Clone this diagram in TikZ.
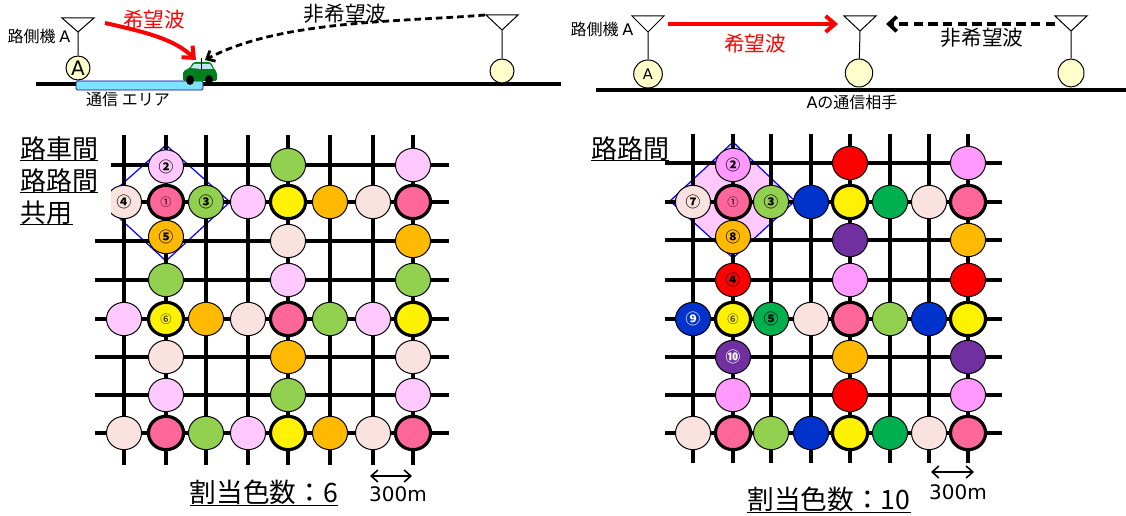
\documentclass[tikz,border=0pt]{standalone}
\usepackage{fontspec}
\setmainfont{DejaVu Sans}
\newfontfamily\jp{Noto Sans CJK JP}
\usetikzlibrary{shapes.geometric,arrows.meta}
\definecolor{rose}{HTML}{FF6699}
\definecolor{lgreen}{HTML}{92D050}
\definecolor{lav}{HTML}{FFC9FF}
\definecolor{mist}{HTML}{FAE2E0}
\definecolor{amber}{HTML}{FFBA00}
\definecolor{violet}{HTML}{FF99FF}
\definecolor{royal}{HTML}{0033CC}
\definecolor{dgreen}{HTML}{00B050}
\definecolor{purp}{HTML}{7030A0}
\definecolor{cream}{HTML}{FFFFCC}
\definecolor{sky}{HTML}{7FE3FF}
\definecolor{cargreen}{HTML}{007F1E}
\definecolor{glass}{HTML}{BFE8F5}
\newcommand\fs[1]{\fontsize{#1}{#1}\selectfont}
\tikzset{
  txt/.style={inner sep=0pt,font=\jp\fs{12}},
  big/.style={txt,font=\jp\fs{15.5}},
  title/.style={txt,font=\jp\fs{19.5}},
  total/.style={txt,font=\jp\fs{20}},
  meter/.style={txt,font=\fs{15}},
  road/.style={line width=2.4pt},
  gridline/.style={line width=2.7pt},
  antenna/.style={line width=0.75pt},
  site/.style={ellipse,draw,line width=0.75pt,fill=cream,inner sep=0pt},
  disc/.style={ellipse,draw,line width=0.75pt,minimum width=26.3pt,minimum height=25pt,inner sep=0pt,font=\jp\bfseries\fs{11}},
  hv/.style={line width=2.4pt},
  drose/.style={disc,fill=rose,hv,font=\jp\fs{8.5}},
  dyell/.style={disc,fill=yellow,hv,font=\jp\fs{8.5}},
  dgr/.style={disc,fill=lgreen},
  dlav/.style={disc,fill=lav},
  dmist/.style={disc,fill=mist},
  damb/.style={disc,fill=amber},
  dvio/.style={disc,fill=violet},
  dred/.style={disc,fill=red},
  dblu/.style={disc,fill=royal,text=white},
  ddg/.style={disc,fill=dgreen},
  dpur/.style={disc,fill=purp,text=white},
  wanted/.style={red,line width=3pt,-{Straight Barb[length=7pt,width=12pt]}},
  unwanted/.style={line width=2.1pt,dash pattern=on 5pt off 3pt,-{Straight Barb[length=5pt,width=9pt]}},
  unwantedb/.style={line width=2.8pt,dash pattern=on 7pt off 4pt,-{Straight Barb[length=6pt,width=11pt]}},
  span/.style={line width=1.2pt,{Straight Barb[length=5pt,width=9pt]}-{Straight Barb[length=5pt,width=9pt]}},
}
\begin{document}
\begin{tikzpicture}[x=0.75pt,y=-0.75pt]
\useasboundingbox (0,0) rectangle (1126,516);
% ---------- grid coordinates
\foreach \c/\x in {0/124,1/166,2/206,3/248,4/288,5/330,6/373,7/413}
  \foreach \r/\y in {0/165,1/202,2/241,3/280,4/319,5/357,6/395,7/433}
    \coordinate (L\c\r) at (\x,\y);
\foreach \c/\x in {0/693,1/733,2/771,3/811,4/850,5/890,6/929,7/968}
  \foreach \r/\y in {0/163,1/202,2/240,3/280,4/319,5/357,6/395,7/433}
    \coordinate (R\c\r) at (\x,\y);
\coordinate (L10) at (166,166.5);
\coordinate (L12) at (166,237);
\coordinate (R10) at (733,165);
\coordinate (R12) at (733,237);
% ---------- left grid
\draw[blue,line width=0.9pt] (166,145) -- (230,202) -- (166,261) -- (102,202) -- cycle;
\foreach \x in {124,166,206,248,288,330,373,413}
  \draw[gridline] (\x,135) -- (\x,465);
\foreach \y in {165,202,241,280,319,357,395,433}
  \draw[gridline] (95,\y) -- (449,\y);
\foreach \c/\r/\s/\t in {
 1/0/dlav/②,4/0/dgr/{},7/0/dlav/{},
 0/1/dmist/④,1/1/drose/①,2/1/dgr/③,3/1/dlav/{},4/1/dyell/{},5/1/damb/{},6/1/dmist/{},7/1/drose/{},
 1/2/damb/⑤,4/2/dmist/{},7/2/damb/{},
 1/3/dgr/{},4/3/dlav/{},7/3/dgr/{},
 0/4/dlav/{},1/4/dyell/⑥,2/4/damb/{},3/4/dmist/{},4/4/drose/{},5/4/dgr/{},6/4/dlav/{},7/4/dyell/{},
 1/5/dmist/{},4/5/damb/{},7/5/dmist/{},
 1/6/dlav/{},4/6/dgr/{},7/6/dlav/{},
 0/7/dmist/{},1/7/drose/{},2/7/dgr/{},3/7/dlav/{},4/7/dyell/{},5/7/damb/{},6/7/dmist/{},7/7/drose/{}}
  \node[\s] (nL\c\r) at (L\c\r) {\t};
\fill[white] (85,130) rectangle (111,222);
% ---------- right grid
\draw[blue,fill=lav,line width=0.9pt] (733,142) -- (795,201) -- (733,258) -- (670,201) -- cycle;
\foreach \x in {693,733,771,811,850,890,929,968}
  \draw[gridline] (\x,134) -- (\x,463);
\foreach \y in {163,202,240,280,319,357,395,433}
  \draw[gridline] (665,\y) -- (1002,\y);
\foreach \c/\r/\s/\t in {
 1/0/dvio/②,4/0/dred/{},7/0/dvio/{},
 0/1/dmist/⑦,1/1/drose/①,2/1/dgr/③,3/1/dblu/{},4/1/dyell/{},5/1/ddg/{},6/1/dmist/{},7/1/drose/{},
 1/2/damb/⑧,4/2/dpur/{},7/2/damb/{},
 1/3/dred/④,4/3/dvio/{},7/3/dred/{},
 0/4/dblu/⑨,1/4/dyell/⑥,2/4/ddg/⑤,3/4/dmist/{},4/4/drose/{},5/4/dgr/{},6/4/dblu/{},7/4/dyell/{},
 1/5/dpur/⑩,4/5/damb/{},7/5/dpur/{},
 1/6/dvio/{},4/6/dred/{},7/6/dvio/{},
 0/7/dmist/{},1/7/drose/{},2/7/dgr/{},3/7/dblu/{},4/7/dyell/{},5/7/ddg/{},6/7/dmist/{},7/7/drose/{}}
  \node[\s] (nR\c\r) at (R\c\r) {\t};
% ---------- panel titles
\node[title] (t1) at (59,149) {路車間};
\node[title] (t2) at (59,181) {路路間};
\node[title,anchor=west] (t3) at (20,213) {共用};
\node[title] (t4) at (630,149) {路路間};
\foreach \n in {t1,t2,t3,t4}
  \draw[line width=0.9pt] ([yshift=0.6pt]\n.south west) -- ([yshift=0.6pt]\n.south east);
% ---------- totals
\node[total] (c1) at (264,492) {割当色数：6};
\node[total] (c2) at (829,499) {割当色数：10};
\draw[line width=0.9pt] ([yshift=-0.4pt]c1.south west) -- ([yshift=-0.4pt]c1.south east);
\draw[line width=0.9pt] ([yshift=-0.4pt]c2.south west) -- ([yshift=-0.4pt]c2.south east);
\coordinate (s1a) at (370,476); \coordinate (s1b) at (412,476);
\coordinate (s2a) at (931,472); \coordinate (s2b) at (974,472);
\draw[span] (s1a) -- (s1b);
\draw[span] (s2a) -- (s2b);
\node[meter] (m1) at (398,494) {300m};
\node[meter] (m2) at (958,492) {300m};
% ---------- upper left scene
\draw[road] (36,84) -- (561,84);
\draw[draw=blue!70!black,fill=sky,rounded corners=1pt,line width=0.6pt] (76,81) rectangle (203,90);
\node[site,minimum width=18pt,minimum height=18pt,font=\fs{15}] (sa) at (78,68) {A};
\node[site,minimum width=18pt,minimum height=18pt] (sb) at (502,71) {};
\coordinate (aa) at (78,32); \coordinate (ab) at (502,30);
\draw[antenna] (sa) -- (aa) (62,18) -- (aa) -- (94,18) -- cycle;
\draw[antenna] (sb) -- (ab) (486,15) -- (ab) -- (518,15) -- cycle;
\node[txt] (la) at (39,36) {路側機 {\fontspec{DejaVu Sans}A}};
\node[txt] (area) at (128,99) {通信 エリア};
\node[big,text=red] (w1) at (154,20) {希望波};
\node[big] (u1) at (345,14) {非希望波};
% car
\fill[cargreen,rounded corners=1.5pt] (183,81) -- (183,71) -- (190,68) -- (193,62) -- (211,62) -- (214,69) -- (217,72) -- (217,81) -- cycle;
\fill[glass] (191,68) -- (194,64) -- (201,64) -- (201,69) -- cycle;
\fill[glass] (202,64) -- (210,64) -- (213,69) -- (202,69) -- cycle;
\fill (190,80) ellipse (4 and 5);
\fill (209,80) ellipse (4 and 5);
\coordinate (carant) at (201,58);
\draw[line width=0.5pt] (201,69) -- (carant);
\coordinate (w1s) at (105,23); \coordinate (w1e) at (196,60);
\coordinate (u1s) at (485,15); \coordinate (u1e) at (205,60);
\draw[wanted] (w1s) .. controls (150,33) and (175,40) .. (w1e);
\draw[unwanted] (u1s) .. controls (400,22) and (280,20) .. (u1e);
% ---------- upper right scene
\draw[road] (596,90) -- (1126,90);
\node[site,minimum width=21.5pt,minimum height=21pt,font=\fs{11}] (sc) at (648,74) {A};
\node[site,minimum width=20.5pt,minimum height=21pt] (sd) at (859,73) {};
\node[site,minimum width=19.5pt,minimum height=21pt] (se) at (1071,73) {};
\coordinate (ac) at (648,32); \coordinate (ad) at (860,31); \coordinate (ae) at (1071,31);
\draw[antenna] (sc) -- (ac) (632,16) -- (ac) -- (664,16) -- cycle;
\draw[antenna] (sd) -- (ad) (844,16) -- (ad) -- (876,16) -- cycle;
\draw[antenna] (se) -- (ae) (1055,16) -- (ae) -- (1087,16) -- cycle;
\node[txt] (lb) at (602,29) {路側機 {\fontspec{DejaVu Sans}A}};
\node[big,text=red] (w2) at (755,44) {希望波};
\node[big] (u2) at (982,38) {非希望波};
\node[txt] (pt) at (852,102) {{\fontspec{DejaVu Sans}A}の通信相手};
\coordinate (w2s) at (668,24); \coordinate (w2e) at (838,24);
\coordinate (u2s) at (1055,24); \coordinate (u2e) at (886,24);
\draw[wanted] (w2s) -- (w2e);
\draw[unwantedb] (u2s) -- (u2e);
\end{tikzpicture}
\end{document}
